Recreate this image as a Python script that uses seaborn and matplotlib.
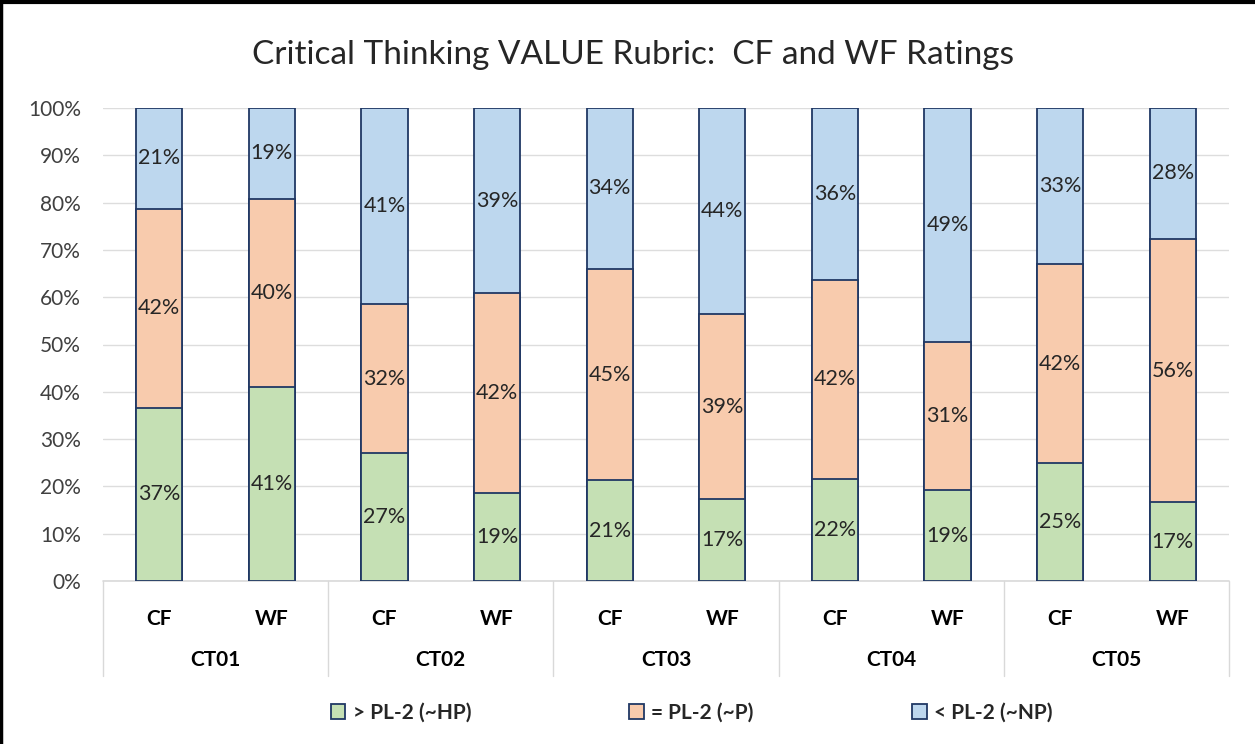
import pandas as pd
import numpy as np
import matplotlib.pyplot as plt
import seaborn as sns
from matplotlib.patches import Patch
from matplotlib.lines import Line2D
import matplotlib.transforms as mtransforms

groups = ['CT01', 'CT02', 'CT03', 'CT04', 'CT05']
forms = ['CF', 'WF']
# percent of ratings per bar, in order CT01 CF, CT01 WF, CT02 CF, ...
hp = [36.6, 41.0, 27.0, 18.6, 21.3, 17.3, 21.6, 19.2, 24.9, 16.6]
p = [42.1, 39.8, 31.6, 42.2, 44.7, 39.1, 42.1, 31.4, 42.1, 55.8]
np_ = [21.3, 19.2, 41.4, 39.2, 34.0, 43.6, 36.3, 49.4, 33.0, 27.6]
series_names = ['> PL-2 (~HP)', '= PL-2 (~P)', '< PL-2 (~NP)']
colors = ['#C5E0B4', '#F8CBAD', '#BDD7EE']
edge = '#203864'

slots = [g + ' ' + f for g in groups for f in forms]
df = pd.DataFrame({'slot': slots, 'hp': hp, 'p': p, 'np': np_})
df['cum_p'] = df['hp'] + df['p']
df['cum_np'] = df['cum_p'] + df['np']

sns.set_style('white')
plt.rcParams['font.family'] = ['Lato', 'DejaVu Sans']

fig = plt.figure(figsize=(12.55, 7.44), dpi=100)
ax = fig.add_axes([103/1255, 1-581/744, 1126/1255, 473/744])

# stacked by drawing cumulative totals back to front
for col, c in zip(['cum_np', 'cum_p', 'hp'], colors[::-1]):
    sns.barplot(data=df, x='slot', y=col, order=slots, color=c, width=0.41,
                edgecolor=edge, linewidth=1.3, saturation=1, ax=ax, zorder=3)

# value labels in segment centers
for i in range(len(slots)):
    base = 0
    for val in (hp[i], p[i], np_[i]):
        ax.text(i, base + val/2, '%d%%' % round(val), ha='center', va='center',
                fontsize=15.5, color='#262626', zorder=4)
        base += val

ax.set_ylim(0, 100)
ax.set_xlim(-0.5, len(slots)-0.5)
ax.set_yticks(np.arange(0, 101, 10))
ax.set_yticklabels(['%d%%' % v for v in range(0, 101, 10)], fontsize=15, color='#404040')
ax.yaxis.grid(True, color='#DDDDDD', linewidth=1)
ax.set_axisbelow(True)
ax.tick_params(axis='y', length=0, pad=16)
for s in ax.spines.values():
    s.set_visible(False)
ax.set_xlabel('')
ax.set_ylabel('')

ax.set_xticks(range(len(slots)))
ax.set_xticklabels([f for g in groups for f in forms], fontsize=15, fontweight='bold', color='black')
ax.tick_params(axis='x', length=0, pad=20)

trans = mtransforms.blended_transform_factory(ax.transData, ax.transAxes)
for k, g in enumerate(groups):
    ax.text(2*k + 0.5, -0.167, g, transform=trans, ha='center', va='center',
            fontsize=15, fontweight='bold', color='black')
# category axis table lines
ax.plot([-0.5, len(slots)-0.5], [0, 0], transform=trans, color='#D9D9D9', lw=1.2, clip_on=False)
for k in range(len(groups)+1):
    xb = 2*k - 0.5
    ax.plot([xb, xb], [0, -0.2], transform=trans, color='#D9D9D9', lw=1, clip_on=False)

fig.text(0.504, 1-55/744, 'Critical Thinking VALUE Rubric:  CF and WF Ratings',
         ha='center', va='center', fontsize=24, color='#262626')

handles = [Patch(facecolor=c, edgecolor=edge, linewidth=1.3) for c in colors]
fig.legend(handles, series_names, loc='center', bbox_to_anchor=(0.551, 1-713/744),
           ncol=3, frameon=False, prop={'size': 15, 'weight': 'bold'},
           handlelength=0.7, handleheight=0.7, handletextpad=0.35, columnspacing=7.6)

# outer frame (top and left edges visible in reference)
fig.add_artist(Line2D([0, 1], [0.997, 0.997], transform=fig.transFigure, color='black', lw=3))
fig.add_artist(Line2D([0.001, 0.001], [0, 1], transform=fig.transFigure, color='black', lw=2.5))

plt.savefig('out.png', dpi=100)
